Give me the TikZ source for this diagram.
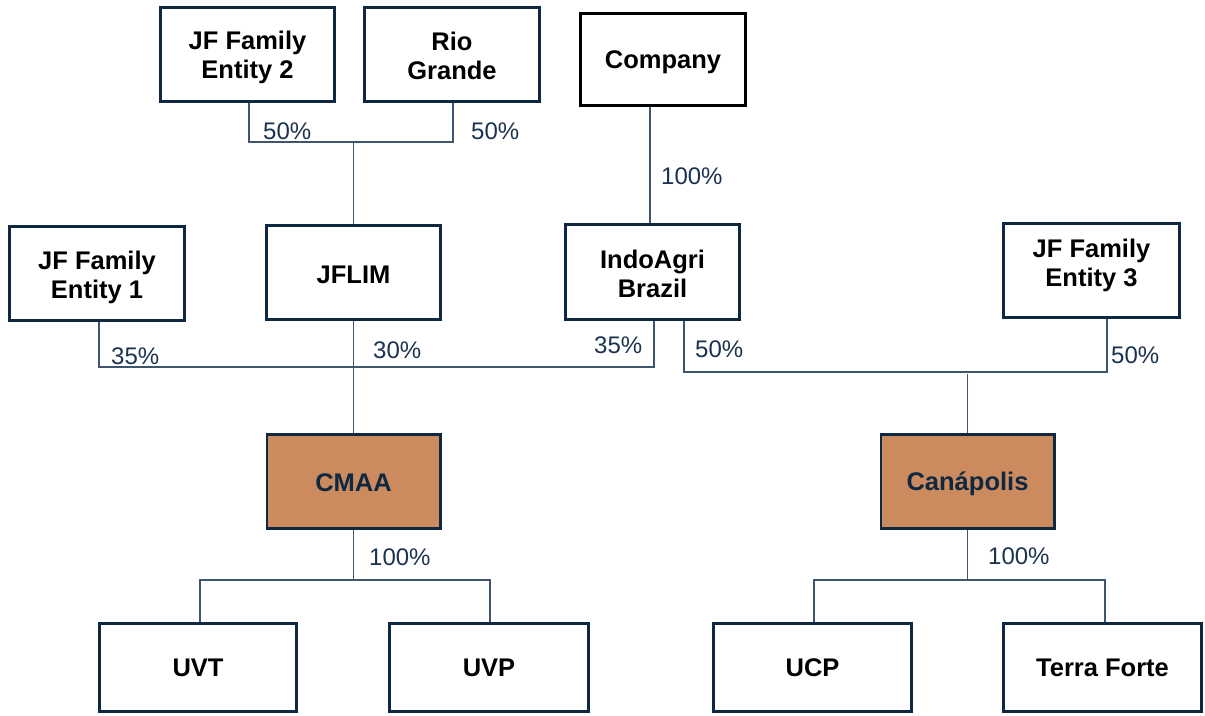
\documentclass[tikz,border=0pt]{standalone}
\usepackage{fontspec}
\setmainfont{Liberation Sans}
\usetikzlibrary{calc}
\definecolor{navy}{HTML}{0E2841}
\definecolor{conn}{HTML}{3E5570}
\definecolor{lbl}{HTML}{1B3350}
\definecolor{ochre}{HTML}{CC8B5E}
% one line, centred on its capitals; optional raise
\newcommand{\oneln}[2][0pt]{\raisebox{#1}[18.3pt][0pt]{#2}}
% two lines, centred on the capitals of the block; optional raise
\newcommand{\twoln}[3][0pt]{\raisebox{#1}[0pt][10.7pt]{\begin{tabular}[t]{@{}c@{}}#2\\#3\end{tabular}}}
\begin{document}
\begin{tikzpicture}[x=1pt,y=-1pt,
  entity/.style={draw=navy, line width=2.6pt, fill=white, inner sep=0pt,
    font=\bfseries\fontsize{25.5}{29}\selectfont, text=black},
  hold/.style={entity, fill=ochre, text=navy},
  link/.style={draw=conn, line width=1.4pt},
  pct/.style={text=lbl, font=\fontsize{24}{28}\selectfont, inner sep=0pt, anchor=base west}]
\useasboundingbox[fill=white] (0,0) rectangle (1205,715);

% top row
\node[entity, minimum width=174.4pt, minimum height=94.4pt] (fe2) at (247.5,54.5) {\twoln{JF Family}{Entity 2}};
\node[entity, minimum width=175.4pt, minimum height=94.4pt] (rio) at (452,54.5) {\twoln[-1pt]{Rio}{Grande}};
\node[entity, draw=black, minimum width=165.4pt, minimum height=92.4pt] (comp) at (663,59.5) {\oneln{Company}};

% middle row
\node[entity, minimum width=175.4pt, minimum height=94.4pt] (fe1) at (97,273.5) {\twoln[-1pt]{JF Family}{Entity 1}};
\node[entity, minimum width=174.4pt, minimum height=94.4pt] (jflim) at (353.5,272.5) {\oneln[-1.8pt]{JFLIM}};
\node[entity, minimum width=174.4pt, minimum height=95.4pt] (indo) at (652.5,272) {\twoln[-1.7pt]{IndoAgri}{Brazil}};
\node[entity, minimum width=176.4pt, minimum height=94.4pt] (fe3) at (1091.5,270.5) {\twoln[8pt]{JF Family}{Entity 3}};

% holding row
\node[hold, minimum width=173.4pt, minimum height=94.4pt] (cmaa) at (353.5,481.5) {\oneln[-1pt]{CMAA}};
\node[hold, minimum width=173.4pt, minimum height=94.4pt] (can) at (967.5,481.5) {\oneln{Canápolis}};

% bottom row
\node[entity, minimum width=197.4pt, minimum height=88.4pt] (uvt) at (198,667.5) {\oneln{UVT}};
\node[entity, minimum width=199.4pt, minimum height=88.4pt] (uvp) at (489,667.5) {\oneln{UVP}};
\node[entity, minimum width=198.4pt, minimum height=88.4pt] (ucp) at (812.5,667.5) {\oneln{UCP}};
\node[entity, minimum width=198.4pt, minimum height=88.4pt] (tf) at (1102.5,667.5) {\oneln{Terra Forte}};

% junctions
\coordinate (j1) at (353.5,142);
\coordinate (j2) at (353.5,367);
\coordinate (j3) at (967.5,372);
\coordinate (j4) at (353.5,580);
\coordinate (j5) at (967.5,580);

% connectors
\draw[link] ([xshift=1.5pt]fe2.south) -- ([xshift=1.5pt]fe2.south |- j1) -- ([xshift=1pt]rio.south |- j1) -- ([xshift=1pt]rio.south);
\draw[link] (j1) -- (jflim.north);
\draw[link] ([xshift=-2.5pt]indo.north) -- ([xshift=-2.5pt]indo.north |- comp.south);

\draw[link] ([xshift=2pt]fe1.south) -- ([xshift=2pt]fe1.south |- j2) -- ([xshift=1.5pt]indo.south |- j2) -- ([xshift=1.5pt]indo.south);
\draw[link] (jflim.south) -- (cmaa.north);
\draw[link] ([xshift=31.5pt]indo.south) -- ([xshift=31.5pt]indo.south |- j3) -- ([xshift=15.5pt]fe3.south |- j3) -- ([xshift=15.5pt]fe3.south);
\draw[link] ([yshift=-2pt]j3) -- (can.north);

\draw[link] (cmaa.south) -- (j4);
\draw[link] ([xshift=2pt]uvt.north) -- ([xshift=2pt]uvt.north |- j4) -- ([xshift=1pt]uvp.north |- j4) -- ([xshift=1pt]uvp.north);
\draw[link] (can.south) -- (j5);
\draw[link] ([xshift=1.5pt]ucp.north) -- ([xshift=1.5pt]ucp.north |- j5) -- ([xshift=2.5pt]tf.north |- j5) -- ([xshift=2.5pt]tf.north);

% percentages
\node[pct] (p1) at (263,139) {50\%};
\node[pct] (p2) at (471,139) {50\%};
\node[pct] (p3) at (661,184) {100\%};
\node[pct] (p4) at (111,364) {35\%};
\node[pct] (p5) at (373,358) {30\%};
\node[pct] (p6) at (594,353) {35\%};
\node[pct] (p7) at (695,357) {50\%};
\node[pct] (p8) at (1111,363) {50\%};
\node[pct] (p9) at (369,565) {100\%};
\node[pct] (p10) at (988,564) {100\%};
\end{tikzpicture}
\end{document}
